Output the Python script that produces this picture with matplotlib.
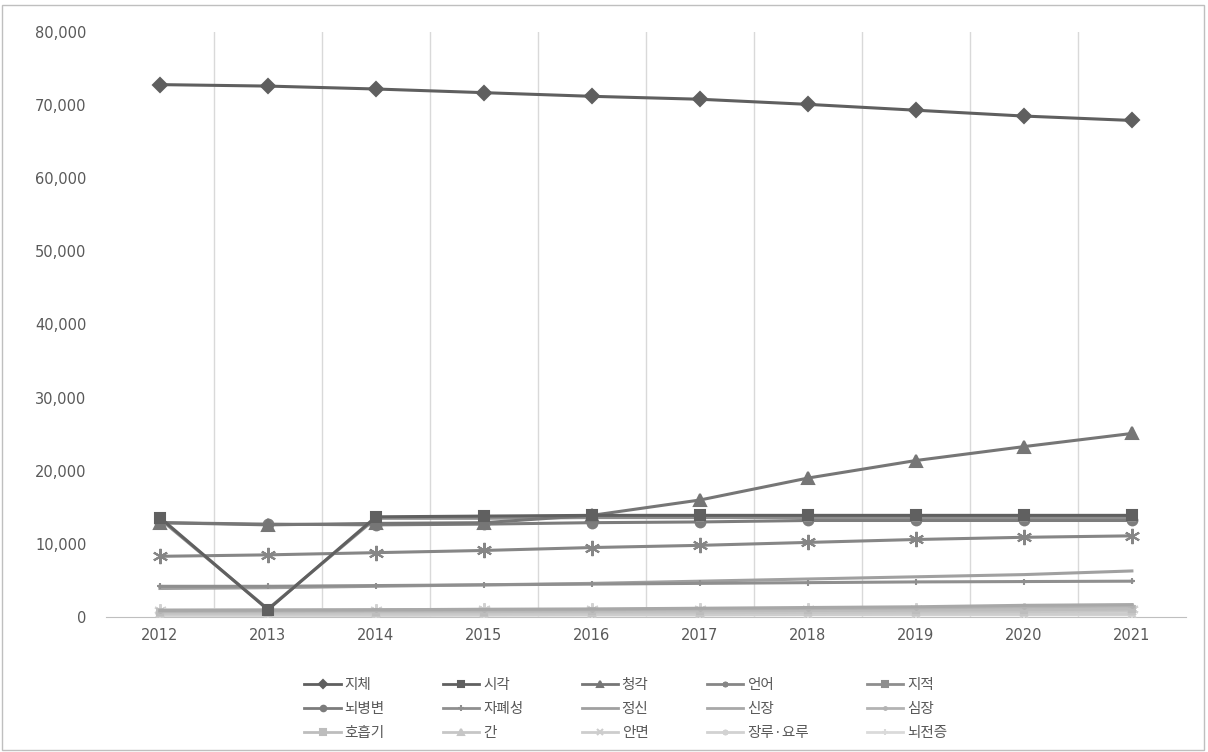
import matplotlib
matplotlib.use("Agg")
import matplotlib.pyplot as plt
from matplotlib.patches import Rectangle
from matplotlib.ticker import FuncFormatter, MultipleLocator

plt.rcParams["font.family"] = ["Noto Sans CJK KR", "DejaVu Sans"]

YEARS = ["2012", "2013", "2014", "2015", "2016", "2017", "2018", "2019", "2020", "2021"]
NAMES = ["지체", "시각", "청각", "언어", "지적",
         "뇌병변", "자폐성", "정신", "신장", "심장",
         "호흡기", "간", "안면", "장루·요루", "뇌전증"]

jiche = [72800, 72600, 72200, 71700, 71200, 70800, 70100, 69300, 68500, 67900]
sigak = [13600, 1000, 13700, 13800, 13900, 13900, 13900, 13900, 13900, 13900]
cheonggak = [12900, 12600, 12800, 12900, 13900, 16000, 19000, 21400, 23300, 25100]
eoneo = [8300, 8500, 8800, 9100, 9500, 9800, 10200, 10600, 10900, 11100]
jijeok = [13400, 1100, 13500, 13500, 13600, 13600, 13600, 13600, 13600, 13600]
noebyeong = [12900, 12700, 12600, 12700, 12900, 13000, 13200, 13200, 13200, 13200]
japye = [4200, 4200, 4300, 4400, 4500, 4600, 4700, 4800, 4850, 4900]
jeongsin = [3900, 4000, 4200, 4400, 4600, 4900, 5200, 5500, 5800, 6300]
sinjang = [900, 950, 1000, 1050, 1100, 1200, 1300, 1400, 1600, 1700]
simjang = [800, 850, 900, 950, 1000, 1100, 1150, 1250, 1400, 1500]
hoheupgi = [700, 700, 750, 750, 800, 850, 900, 950, 1000, 1100]
gan = [500, 500, 550, 550, 600, 600, 650, 700, 750, 800]
anmyeon = [300, 300, 300, 300, 350, 350, 350, 400, 400, 400]
jangru = [1000, 1000, 1000, 1050, 1050, 1100, 1100, 1100, 1150, 1150]
noejeon = [200, 200, 200, 250, 250, 250, 300, 300, 300, 300]

SERIES = [jiche, sigak, cheonggak, eoneo, jijeok,
          noebyeong, japye, jeongsin, sinjang, simjang,
          hoheupgi, gan, anmyeon, jangru, noejeon]

ASTER = (6, 2, 0)
# colour, marker, marker size
STYLE = [("#5f5f5f", "D", 7), ("#606060", "s", 7), ("#767676", "^", 8),
         ("#868686", ASTER, 11), ("#8e8e8e", "s", 4),
         ("#7c7c7c", "o", 7), ("#8f8f8f", "+", 5), ("#a0a0a0", "", 0),
         ("#a8a8a8", "", 0), ("#b3b3b3", ".", 4),
         ("#bdbdbd", "s", 5), ("#c6c6c6", "^", 5), ("#cdcdcd", "x", 6),
         ("#d2d2d2", ASTER, 9), ("#dadada", "+", 6)]

fig = plt.figure(figsize=(12.08, 7.52), dpi=100)
ax = fig.add_axes([0.0877, 0.1795, 0.894, 0.778])

x = list(range(len(YEARS)))
for i in reversed(range(len(SERIES))):
    c, mk, ms = STYLE[i]
    ax.plot(x, SERIES[i], color=c, lw=2.2, marker=mk if mk else None, ms=ms,
            mew=1.5, label=NAMES[i], zorder=3 + (15 - i) * 0.01 if i else 4)

ax.set_xlim(-0.5, len(YEARS) - 0.5)
ax.set_ylim(0, 80000)
ax.yaxis.set_major_locator(MultipleLocator(10000))
ax.yaxis.set_major_formatter(FuncFormatter(lambda v, p: f"{int(v):,}"))
ax.set_xticks(x)
ax.set_xticklabels(YEARS)
ax.set_xticks([i + 0.5 for i in x[:-1]], minor=True)
ax.grid(True, which="minor", axis="x", color="#d9d9d9", lw=1)
ax.tick_params(which="both", length=0, labelsize=10.5, colors="#595959")
ax.tick_params(axis="y", pad=14)
ax.tick_params(axis="x", pad=8)
for s in ("top", "right", "left"):
    ax.spines[s].set_visible(False)
ax.spines["bottom"].set_color("#bfbfbf")
for lab in ax.get_xticklabels() + ax.get_yticklabels():
    lab.set_fontfamily(["DejaVu Sans"])

h, l = ax.get_legend_handles_labels()
h, l = h[::-1], l[::-1]
# fill rows left to right
order = [r * 5 + c for c in range(5) for r in range(3)]
leg = fig.legend([h[k] for k in order], [l[k] for k in order], ncol=5,
                 loc="center", bbox_to_anchor=(0.518, 0.057), frameon=False,
                 fontsize=10.5, handlelength=2.5, columnspacing=4.0,
                 labelspacing=0.7, handletextpad=0.25)
for t in leg.get_texts():
    t.set_color("#595959")
for lh in leg.legend_handles:
    lh.set_markersize(4)
    lh.set_linewidth(2)

fig.add_artist(Rectangle((0.002, 0.003), 0.995, 0.99, transform=fig.transFigure,
                         fill=False, edgecolor="#bfbfbf", lw=1))

fig.savefig("out.png", dpi=100)
